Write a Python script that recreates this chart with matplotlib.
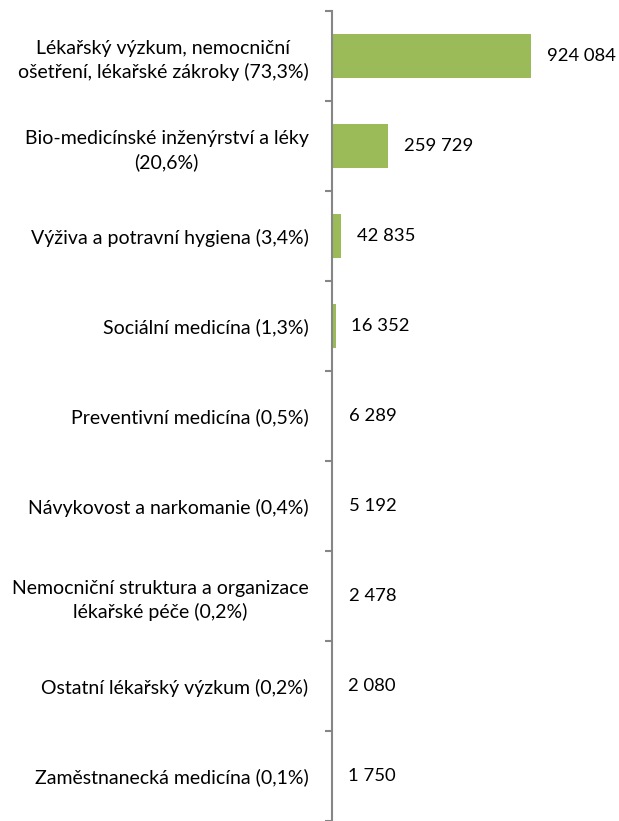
import matplotlib
matplotlib.use('Agg')
import matplotlib.pyplot as plt
import numpy as np

plt.rcParams['font.family'] = ['Lato', 'DejaVu Sans']

# data
categories = [
    'Lékařský výzkum, nemocniční\nošetření, lékařské zákroky (73,3%)',
    'Bio-medicínské inženýrství a léky\n(20,6%)',
    'Výživa a potravní hygiena (3,4%)',
    'Sociální medicína (1,3%)',
    'Preventivní medicína (0,5%)',
    'Návykovost a narkomanie (0,4%)',
    'Nemocniční struktura a organizace\nlékařské péče (0,2%)',
    'Ostatní lékařský výzkum (0,2%)',
    'Zaměstnanecká medicína (0,1%)',
]
values = [924084, 259729, 42835, 16352, 6289, 5192, 2478, 2080, 1750]
value_labels = ['924 084', '259 729', '42 835', '16 352', '6 289', '5 192', '2 478', '2 080', '1 750']

fig = plt.figure(figsize=(6.19, 8.21), dpi=100)
ax = fig.add_axes([332 / 619, 0, 215 / 619, 1 - 11 / 821])

y = np.arange(len(values))
bars = ax.barh(y, values, height=0.49, color='#9BBB59')

ax.set_xlim(0, 1000000)
ax.set_ylim(len(values) - 0.5, -0.5)

for s in ['top', 'right', 'bottom']:
    ax.spines[s].set_visible(False)
ax.spines['left'].set_color('#868686')
ax.spines['left'].set_linewidth(1.5)
ax.set_xticks([])

ax.set_yticks(y)
ax.set_yticklabels(categories, fontsize=14, multialignment='center', linespacing=1.4)
ax.tick_params(axis='y', which='major', length=0, pad=17)
ax.set_yticks(np.arange(len(values) + 1) - 0.5, minor=True)
ax.tick_params(axis='y', which='minor', length=5, width=1.5, color='#868686')

# value labels
for bar, lab in zip(bars, value_labels):
    ax.annotate(lab, (bar.get_width(), bar.get_y() + bar.get_height() / 2),
                xytext=(11.5, 0), textcoords='offset points',
                ha='left', va='center', fontsize=13.3, annotation_clip=False)

fig.savefig('out.png', dpi=100)
